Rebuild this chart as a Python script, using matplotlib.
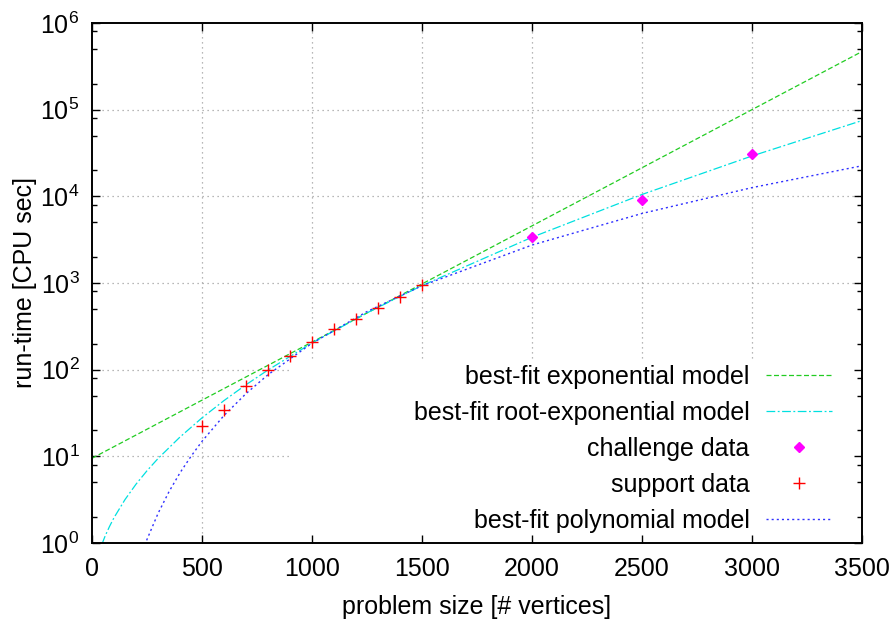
import matplotlib
matplotlib.use("Agg")
import matplotlib.pyplot as plt
from matplotlib.ticker import LogLocator, NullFormatter
from matplotlib.patches import Rectangle

plt.rcParams['font.family'] = ['Liberation Sans', 'DejaVu Sans']
plt.rcParams['mathtext.fontset'] = 'custom'
plt.rcParams['mathtext.rm'] = 'Liberation Sans'

# measured points
support_n = [500, 600, 700, 800, 900, 1000, 1100, 1200, 1300, 1400, 1500]
support_t = [22.4, 34.3, 64.8, 98.4, 145, 210, 292, 381, 519, 695, 948]
challenge_n = [2000, 2500, 3000]
challenge_t = [3420, 9000, 30500]

# model curves
exp_n = [0, 1000, 1500, 2000, 3000, 3500]
exp_t = [9.5, 208, 975, 4560, 100000, 468000]

rexp_n = [45, 60, 80, 100, 150, 200, 250, 300, 400, 500, 600, 700, 800,
          1000, 1250, 1500, 2000, 2500, 3000, 3500]
rexp_t = [0.966, 1.21, 1.56, 1.96, 3.17, 4.77, 6.82, 9.43, 16.7, 27.8, 44.0,
          67.0, 99.1, 203, 452, 933, 3370, 10500, 29200, 74800]

poly_n = [240, 250, 300, 350, 400, 450, 500, 600, 700, 800, 1000, 1250,
          1500, 2000, 2500, 3000, 3500]
poly_t = [0.945, 1.10, 2.19, 3.91, 6.46, 10.0, 14.9, 29.6, 52.9, 87.4, 202,
          468, 930, 2740, 6340, 12600, 22500]

xticks = [0, 500, 1000, 1500, 2000, 2500, 3000, 3500]
ygrid = [1e1, 1e2, 1e3, 1e4, 1e5]

fig = plt.figure(figsize=(8.95, 6.21), dpi=100)
ax = fig.add_axes([0.1028, 0.1256, 0.8603, 0.8374])

# dotted grid drawn by hand so the key box can blank it out
for x in xticks[1:-1]:
    ax.axvline(x, color='#a0a0a0', lw=0.9, ls=(0, (1, 3)), zorder=1)
for y in ygrid:
    ax.axhline(y, color='#a0a0a0', lw=0.9, ls=(0, (1, 3)), zorder=1)
ax.add_patch(Rectangle((0.257, 0), 0.743, 0.348, transform=ax.transAxes,
                       facecolor='white', edgecolor='none', zorder=1.5))

l_exp, = ax.plot(exp_n, exp_t, color='#22cc22', lw=0.9, ls=(0, (4, 2)))
l_rexp, = ax.plot(rexp_n, rexp_t, color='#00e0e0', lw=0.9, ls=(0, (7, 2, 1.5, 2)))
l_poly, = ax.plot(poly_n, poly_t, color='#3030ff', lw=1.0, ls=(0, (1.5, 2.2)))
l_ch, = ax.plot(challenge_n, challenge_t, ls='none', marker='D', ms=5,
                color='#ff00ff', zorder=3)
l_sup, = ax.plot(support_n, support_t, ls='none', marker='+', ms=8.5, mew=1.0,
                 color='#ff0000', zorder=3)

ax.set_yscale('log')
ax.set_xlim(0, 3500)
ax.set_ylim(1, 1e6)
ax.set_xticks(xticks)
ax.yaxis.set_major_locator(LogLocator(base=10, numticks=10))
ax.yaxis.set_minor_locator(LogLocator(base=10, subs=(2, 5, 8), numticks=10))
ax.yaxis.set_minor_formatter(NullFormatter())

ax.tick_params(which='both', direction='in', top=True, right=True, labelsize=18)
ax.tick_params(which='major', length=6, width=1.0)
ax.tick_params(axis='x', which='major', pad=10)
ax.tick_params(axis='y', which='major', pad=9)
ax.tick_params(which='minor', length=3.5, width=1.0)
for s in ax.spines.values():
    s.set_linewidth(1.4)

ax.set_xlabel("problem size [# vertices]", fontsize=18, labelpad=10)
ax.set_ylabel("run-time [CPU sec]", fontsize=18, labelpad=2)

leg = ax.legend([l_exp, l_rexp, l_ch, l_sup, l_poly],
                ["best-fit exponential model", "best-fit root-exponential model",
                 "challenge data", "support data", "best-fit polynomial model"],
                loc='lower right', bbox_to_anchor=(0.961, 0.02), frameon=False,
                markerfirst=False, fontsize=18, handlelength=2.65,
                handletextpad=0.65, labelspacing=0.48, borderpad=0,
                borderaxespad=0)
for t in leg.get_texts():
    t.set_ha('right')

fig.savefig("out.png", dpi=100)
